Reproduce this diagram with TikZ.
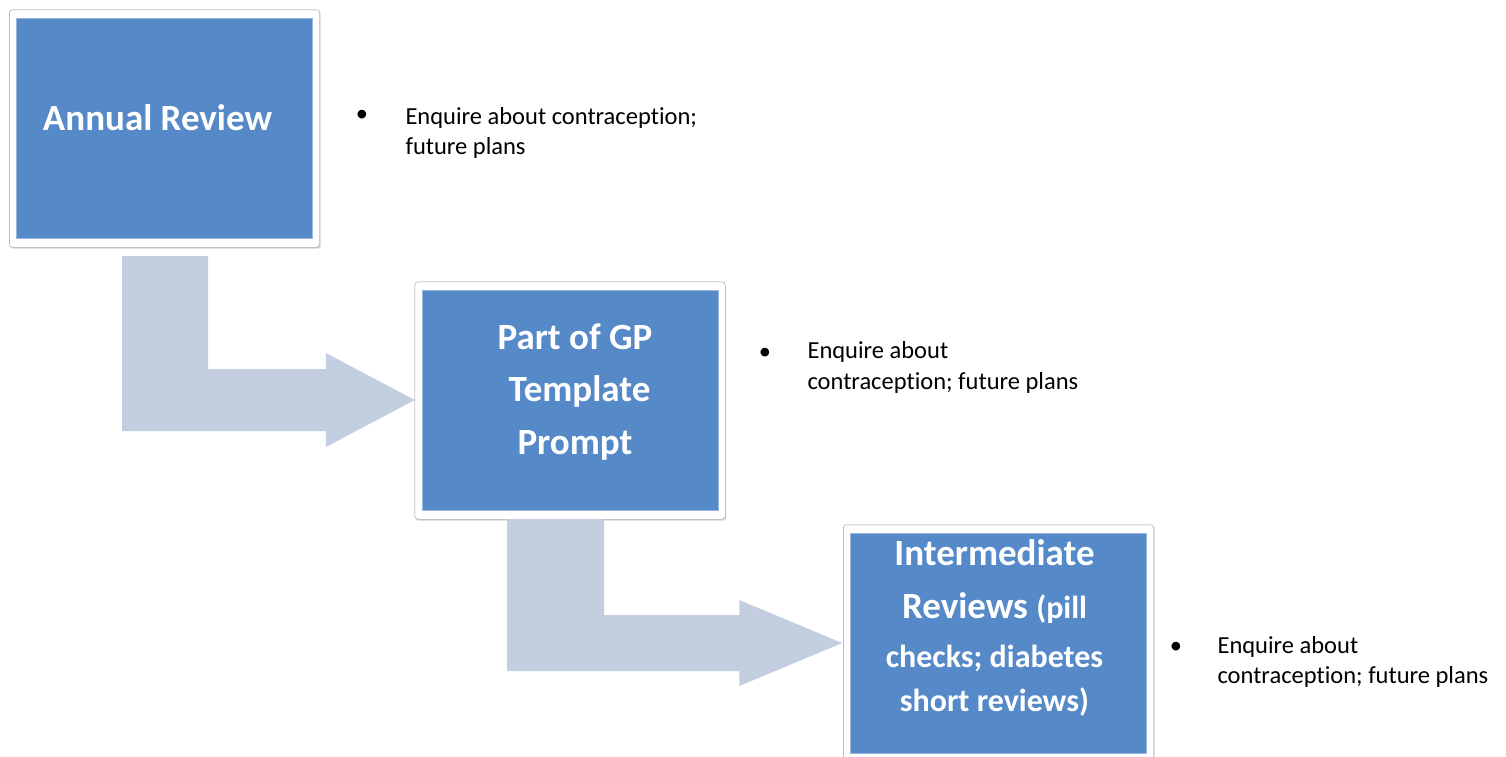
\documentclass[tikz,border=0pt]{standalone}
\usepackage{fontspec}
\setmainfont{Carlito}[Ligatures=CommonOff]
\usetikzlibrary{backgrounds,shadows,calc}
\definecolor{cardblue}{RGB}{85,137,200}
\definecolor{flowgray}{RGB}{195,206,224}
\tikzset{
  card/.style={fill=cardblue, draw=cardblue!60!white, minimum width=296pt, minimum height=220pt, inner sep=0pt},
  frame/.style={draw=black!40, fill=white, rounded corners=3pt,
    drop shadow={shadow xshift=1pt, shadow yshift=-1.5pt, opacity=0.35}},
  cardtext/.style={text=white, font=\bfseries\fontsize{37}{52.5}\selectfont, align=center},
  note/.style={font=\fontsize{24.5}{30.5}\selectfont, align=left, anchor=base west},
  dot/.style={font=\fontsize{24.5}{30.5}\selectfont},
  flow/.style={fill=flowgray},
}
\begin{document}
\begin{tikzpicture}[x=1pt, y=-1pt]
  \useasboundingbox (0,0) rectangle (1506,756);
  % review stages
  \node[card] (annual) at (164.5,128) {};
  \node[card] (template) at (570,400) {};
  \node[card] (interim) at (998.5,643) {};
  \begin{scope}[on background layer]
    \foreach \c in {annual,template,interim}
      \draw[frame] ([shift={(-7pt,8pt)}]\c.north west) rectangle ([shift={(7pt,-9pt)}]\c.south east);
  \end{scope}
  \node[cardtext] (annualtxt) at ([shift={(-7pt,10pt)}]annual.center) {Annual Review};
  \node[cardtext] (templatetxt) at ([shift={(5pt,8pt)}]template.center) {Part of GP\\\hspace*{9pt}Template\\Prompt};
  \node[cardtext] (interimtxt) at ([shift={(-4pt,15pt)}]interim.center)
    {Intermediate\\Reviews {\fontsize{32}{49}\selectfont(pill}\\[-3pt]
     {\fontsize{32}{42}\selectfont checks; diabetes}\\[-9pt]
     {\fontsize{32}{42}\selectfont short reviews)}};

  % bent arrows between the stages
  \coordinate (tip1) at ([xshift=-7pt]template.west);
  \fill[flow] (122,256) -- (208,256) |- ($(tip1)+(-89,-31)$) -- ($(tip1)+(-89,-47)$) -- (tip1)
    -- ($(tip1)+(-89,47)$) -- ($(tip1)+(-89,31)$) -| cycle;
  \coordinate (tip2) at ([xshift=-8pt]interim.west);
  \fill[flow] (507,519) -- (604,519) |- ($(tip2)+(-103,-28)$) -- ($(tip2)+(-103,-43)$) -- (tip2)
    -- ($(tip2)+(-103,43)$) -- ($(tip2)+(-103,28)$) -| cycle;

  % notes
  \node[dot] (annualdot) at (362,116) {•};
  \node[note] (annualnote) at (402,154.5) {Enquire about contraception;\\future plans};
  \node[dot] (templatedot) at (765,354) {•};
  \node[note] (templatenote) at (804,389) {Enquire about\\contraception; future plans};
  \node[dot] (interimdot) at (1176,648) {•};
  \node[note] (interimnote) at (1214,683.5) {Enquire about\\contraception; future plans};
\end{tikzpicture}
\end{document}
